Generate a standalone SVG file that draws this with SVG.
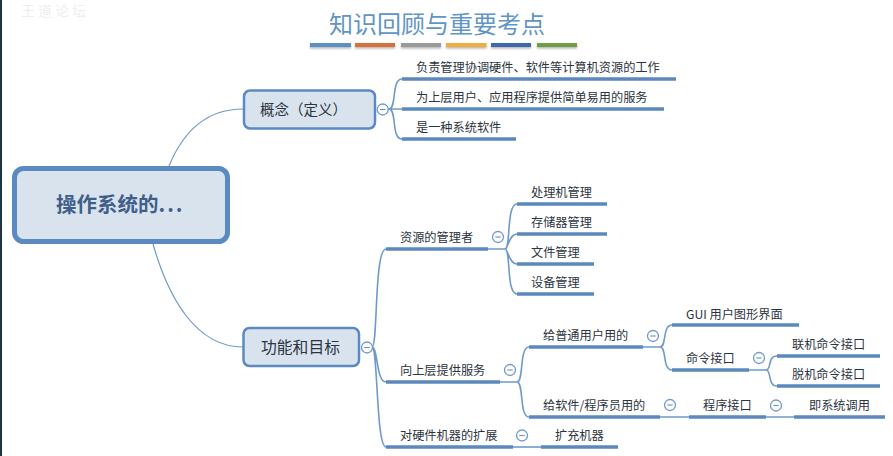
<svg xmlns="http://www.w3.org/2000/svg" width="893" height="456" viewBox="0 0 893 456">
<defs>
<filter id="sh" x="-10%" y="-100%" width="120%" height="350%"><feDropShadow dx="0" dy="1.5" stdDeviation="1.2" flood-color="#000" flood-opacity="0.3"/></filter>
</defs>
<style>
text{font-family:"Noto Sans CJK SC","Liberation Sans",sans-serif;fill:#2b3440}
.t{font-size:12.2px}
.u{stroke:#5b88bd;stroke-width:3.6;fill:none}
.c{stroke:#6f9acb;stroke-width:1.6;fill:none}
.l{stroke:#6f9acb;stroke-width:1.2;fill:none}
.box{fill:#d9e3ee;stroke:#5b8ac3}
.col circle{fill:#fff;stroke:#6f9acb;stroke-width:1.3}
.col path{stroke:#6f8fb5;stroke-width:1.1;fill:none}
</style>
<rect width="893" height="456" fill="#fff"/>
<rect x="0" y="0" width="2" height="456" fill="#1f3347"/>
<text x="21" y="16" font-size="14" letter-spacing="3" style="fill:#eeeeee">王道论坛</text>
<g id="title">
<text x="437" y="33" text-anchor="middle" font-size="24" style="fill:#5f96c6">知识回顾与重要考点</text>
<g filter="url(#sh)">
<rect x="310" y="43" width="41" height="4" fill="#5b8fc5"/>
<rect x="355" y="43" width="40" height="4" fill="#d8703a"/>
<rect x="401" y="43" width="40" height="4" fill="#9a9a9a"/>
<rect x="446" y="43" width="40.500" height="4" fill="#f0ad3f"/>
<rect x="491" y="43" width="40" height="4" fill="#3d68ae"/>
<rect x="537" y="43" width="40" height="4" fill="#6f9e47"/>
</g>
</g>
<g id="connectors">
<path class="l" d="M169 166C183 132 206 109 243 109"/>
<path class="l" d="M153 244C169 300 197 347 243 347"/>
<path class="c" d="M388 109H402M389 109C397 109 391 79 402 79M389 109C397 109 391 139 402 139"/>
<path class="c" d="M372 347C378 347 374 249 386 249M372 347C378 347 376 382 386 382M372 347C378 347 376 447 386 447"/>
<path class="c" d="M488 249H505M505 249C511 249 506 204 517 204M505 249C508 249 509 234 517 234M505 249C508 249 509 264 517 264M505 249C511 249 506 294 517 294"/>
<path class="c" d="M500 382H517M517 382C524 382 519 347 529 347M517 382C524 382 519 417 529 417"/>
<path class="c" d="M513 447H541"/>
<path class="c" d="M643 347H660M660 347C667 347 662 325 672 325M660 347C667 347 662 370 672 370"/>
<path class="c" d="M749 370H766M766 370C772 370 767 356 777 356M766 370C772 370 767 386 777 386"/>
<path class="c" d="M660 417H689M766 417H794"/>
</g>
<g id="root"><rect class="box" x="14.500" y="168.500" width="213" height="73" rx="9" stroke-width="5"/><text x="56" y="212" font-size="20.500" font-weight="700" style="fill:#3f5f8a">操作系统的<tspan letter-spacing="2">...</tspan></text></g>
<g id="n-concept"><rect class="box" x="244" y="90.500" width="131" height="38" rx="6" stroke-width="2.500"/><text x="260" y="115" font-size="14.500">概念（定义）</text></g>
<g id="n-function"><rect class="box" x="243.500" y="328" width="115.500" height="38" rx="6" stroke-width="2.500"/><text x="261" y="353" font-size="15.800">功能和目标</text></g>
<g id="n1"><path class="u" d="M402 79H676"/><text class="t" x="416" y="72">负责管理协调硬件、软件等计算机资源的工作</text></g>
<g id="n2"><path class="u" d="M402 109H664"/><text class="t" x="416" y="102">为上层用户、应用程序提供简单易用的服务</text></g>
<g id="n3"><path class="u" d="M402 139H516"/><text class="t" x="416" y="132">是一种系统软件</text></g>
<g id="n4"><path class="u" d="M386 249H488"/><text class="t" x="400" y="242">资源的管理者</text></g>
<g id="n5"><path class="u" d="M517 204H607"/><text class="t" x="531" y="197">处理机管理</text></g>
<g id="n6"><path class="u" d="M517 234H607"/><text class="t" x="531" y="227">存储器管理</text></g>
<g id="n7"><path class="u" d="M517 264H594"/><text class="t" x="531" y="257">文件管理</text></g>
<g id="n8"><path class="u" d="M517 294H594"/><text class="t" x="531" y="287">设备管理</text></g>
<g id="n9"><path class="u" d="M386 382H500"/><text class="t" x="400" y="375">向上层提供服务</text></g>
<g id="n10"><path class="u" d="M529 347H643"/><text class="t" x="543" y="340">给普通用户用的</text></g>
<g id="n11"><path class="u" d="M672 325H799"/><text class="t" x="686" y="319">GUI 用户图形界面</text></g>
<g id="n12"><path class="u" d="M672 370H749"/><text class="t" x="686" y="363">命令接口</text></g>
<g id="n13"><path class="u" d="M777 356H880"/><text class="t" x="792" y="349">联机命令接口</text></g>
<g id="n14"><path class="u" d="M777 386H880"/><text class="t" x="792" y="379">脱机命令接口</text></g>
<g id="n15"><path class="u" d="M529 417H660"/><text class="t" x="543" y="410">给软件/程序员用的</text></g>
<g id="n16"><path class="u" d="M689 417H766"/><text class="t" x="703" y="410">程序接口</text></g>
<g id="n17"><path class="u" d="M794 417H885"/><text class="t" x="809" y="410">即系统调用</text></g>
<g id="n18"><path class="u" d="M386 447H513"/><text class="t" x="400" y="440">对硬件机器的扩展</text></g>
<g id="n19"><path class="u" d="M541 447H618"/><text class="t" x="555" y="440">扩充机器</text></g>
<g id="collapse" class="col">
<circle cx="382.700" cy="109.500" r="5.500"/><path d="M380 109.500h5.400"/>
<circle cx="367" cy="347.500" r="5.500"/><path d="M364.300 347.500h5.400"/>
<circle cx="498" cy="237" r="5.500"/><path d="M495.300 237h5.400"/>
<circle cx="510" cy="370" r="5.500"/><path d="M507.300 370h5.400"/>
<circle cx="522" cy="435.500" r="5.500"/><path d="M519.300 435.500h5.400"/>
<circle cx="653" cy="336" r="5.500"/><path d="M650.300 336h5.400"/>
<circle cx="759" cy="358" r="5.500"/><path d="M756.300 358h5.400"/>
<circle cx="670" cy="405" r="5.500"/><path d="M667.300 405h5.400"/>
<circle cx="776" cy="405.500" r="5.500"/><path d="M773.300 405.500h5.400"/>
</g>
</svg>
